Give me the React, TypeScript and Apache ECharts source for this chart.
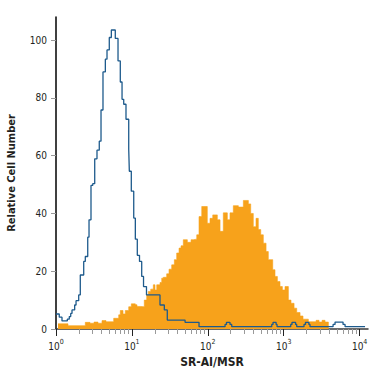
import React, { useEffect, useRef } from "react";
import * as echarts from "echarts";

// Y axis ticks (relative cell number)
const yTickValues = [0, 20, 40, 60, 80, 100];
// X axis decades (log10 of SR-AI/MSR fluorescence)
const decadeExponents = [0, 1, 2, 3, 4];
const minorMultipliers = [2, 3, 4, 5, 6, 7, 8, 9];

// Isotype control histogram (blue outline): left bin edge in log10 units, count held to next edge
const isotypeLogX = [
  0.0, 0.043, 0.079, 0.149, 0.175, 0.194, 0.211, 0.246, 0.264, 0.299,
  0.32, 0.365, 0.386, 0.418, 0.435, 0.461, 0.484, 0.51, 0.54, 0.57,
  0.593, 0.619, 0.65, 0.672, 0.702, 0.729, 0.781, 0.817, 0.847, 0.87,
  0.892, 0.922, 0.958, 0.966, 0.992, 1.024, 1.045, 1.071, 1.1, 1.129,
  1.153, 1.192, 1.37, 1.427, 1.466, 1.7, 1.884, 2.227, 2.246, 2.292,
  2.315, 2.842, 2.859, 2.899, 2.912, 3.092, 3.109, 3.156, 3.171, 3.267,
  3.287, 3.331, 3.346, 3.65, 3.676, 3.781, 3.808, 4.071,
];
const isotypeCount = [
  5.2, 4.1, 2.8, 3.4, 4.3, 5.4, 6.6, 8.3, 9.8, 11.8,
  18.7, 23.4, 25.1, 31.8, 37.8, 49.7, 50.3, 58.9, 61.9, 65,
  75.8, 89, 93.4, 96.6, 100.9, 103.5, 100.6, 92.8, 85.5, 79.5,
  77.8, 72.6, 62.2, 54.6, 47.7, 38.4, 31.1, 25.5, 23.4, 18.2,
  14.7, 11.8, 8.3, 6.6, 3.1, 2.3, 0.8, 1.6, 2.3, 1.6,
  0.8, 1.6, 2.3, 1.6, 0.8, 1.6, 2.3, 1.6, 0.8, 1.6,
  2.3, 1.6, 0.8, 1.6, 2.4, 1.6, 0.8, 0.8,
];

// Stained cells histogram (orange fill)
const stainedLogX = [
  0.026, 0.158, 0.386, 0.448, 0.501, 0.553, 0.606, 0.659, 0.76, 0.826,
  0.847, 0.883, 0.913, 0.958, 0.992, 1.045, 1.067, 1.116, 1.163, 1.195,
  1.216, 1.248, 1.282, 1.304, 1.327, 1.37, 1.393, 1.414, 1.458, 1.489,
  1.524, 1.559, 1.59, 1.621, 1.647, 1.677, 1.73, 1.779, 1.809, 1.854,
  1.884, 1.92, 1.993, 2.029, 2.065, 2.125, 2.161, 2.204, 2.257, 2.292,
  2.336, 2.402, 2.468, 2.534, 2.565, 2.599, 2.635, 2.665, 2.697, 2.731,
  2.767, 2.797, 2.855, 2.885, 2.916, 2.951, 2.982, 3.017, 3.061, 3.096,
  3.136, 3.171, 3.215, 3.254, 3.324, 3.426, 3.465, 3.505, 3.544, 3.588,
];
const stainedCount = [
  1.8, 1.15, 2.3, 2.0, 2.4, 2.0, 2.9, 2.5, 3.7, 4.9,
  6.4, 5.2, 6.4, 7.7, 8.7, 8.4, 7.8, 7.7, 10, 11.8,
  13, 13.8, 15.3, 13.5, 15.3, 16.1, 17.6, 17.9, 19.1, 20.7,
  22.2, 24, 26.3, 28, 28.8, 30.9, 30, 30.9, 31.1, 32.6,
  38.9, 42.4, 36.6, 38.3, 39.5, 37.8, 33.8, 40.2, 37.8, 40.2,
  42.7, 42.2, 44.5, 43.3, 40, 35.4, 38.3, 34.4, 32.6, 29.7,
  26.8, 24, 20.5, 18.2, 16.4, 14.7, 13.5, 14.7, 10, 8.9,
  7.2, 5.7, 4.5, 3.4, 2.5, 3.0, 2.4, 3.0, 2.4, 0,
];

const X_MAX = 4.11;
const Y_MAX = 108;
const FONT = '"DejaVu Sans Condensed", "Liberation Sans Narrow", sans-serif';
const TEXT = "#231f20";

const minorTickValues: number[] = [];
decadeExponents.forEach((d) => {
  minorMultipliers.forEach((m) => {
    const v = d + Math.log10(m);
    if (v < X_MAX) minorTickValues.push(v);
  });
});

export default function App() {
  const ref = useRef<HTMLDivElement>(null);
  useEffect(() => {
    if (!ref.current) return;
    const chart = echarts.init(ref.current, undefined, { renderer: "svg" });
    const isoData = isotypeLogX.map((x, i) => [x, isotypeCount[i]]);
    const stainedData = stainedLogX.map((x, i) => [x, stainedCount[i]]);
    chart.setOption({
      animation: false,
      backgroundColor: "#ffffff",
      grid: { left: 56, right: 7, top: 17, bottom: 46, outerBoundsMode: "none", containLabel: false },
      xAxis: [
        {
          type: "value",
          min: 0,
          max: X_MAX,
          position: "bottom",
          name: "SR-AI/MSR",
          nameLocation: "middle",
          nameGap: 25,
          nameTextStyle: { fontFamily: FONT, fontSize: 12, fontWeight: "bold", color: TEXT },
          axisLine: { show: true, lineStyle: { color: "#3a3a3a", width: 1.5 } },
          axisTick: { show: true, customValues: decadeExponents, length: 7, lineStyle: { color: "#222", width: 1 } },
          axisLabel: {
            customValues: decadeExponents,
            margin: 9,
            formatter: (v: number) => `{b|10}{s|${Math.round(v)}}`,
            rich: {
              b: { fontFamily: FONT, fontSize: 10, color: TEXT, lineHeight: 13, verticalAlign: "bottom" },
              s: { fontFamily: FONT, fontSize: 7, color: TEXT, lineHeight: 7, verticalAlign: "top" },
            },
          },
          splitLine: { show: false },
        },
        {
          type: "value",
          min: 0,
          max: X_MAX,
          position: "bottom",
          axisLine: { show: false },
          axisTick: { show: true, customValues: minorTickValues, length: 5, lineStyle: { color: "#9a9a9a", width: 1 } },
          axisLabel: { show: false },
          splitLine: { show: false },
        },
      ],
      yAxis: {
        type: "value",
        min: 0,
        max: Y_MAX,
        name: "Relative Cell Number",
        nameLocation: "middle",
        nameGap: 39,
        nameTextStyle: { fontFamily: FONT, fontSize: 11, fontWeight: "bold", color: TEXT },
        axisLine: { show: true, lineStyle: { color: "#000", width: 1.5 } },
        axisTick: { show: true, customValues: yTickValues, length: 5, lineStyle: { color: "#999", width: 1 } },
        axisLabel: { customValues: yTickValues, margin: 9, fontFamily: FONT, fontSize: 10, color: TEXT },
        splitLine: { show: false },
      },
      series: [
        {
          type: "line",
          name: "Stained",
          xAxisIndex: 0,
          data: stainedData,
          step: "end",
          showSymbol: false,
          symbol: "none",
          lineStyle: { color: "#f7a21b", width: 0.6 },
          areaStyle: { color: "#f7a21b", opacity: 1 },
          z: 2,
        },
        {
          type: "line",
          name: "Isotype",
          xAxisIndex: 0,
          data: isoData,
          step: "end",
          showSymbol: false,
          symbol: "none",
          lineStyle: { color: "#1d5a8c", width: 1.3 },
          z: 3,
        },
      ],
    });
    return () => chart.dispose();
  }, []);
  return (
    <div
      ref={ref}
      style={{ position: "fixed", left: 0, top: 0, width: 375, height: 375, background: "#fff" }}
    />
  );
}
